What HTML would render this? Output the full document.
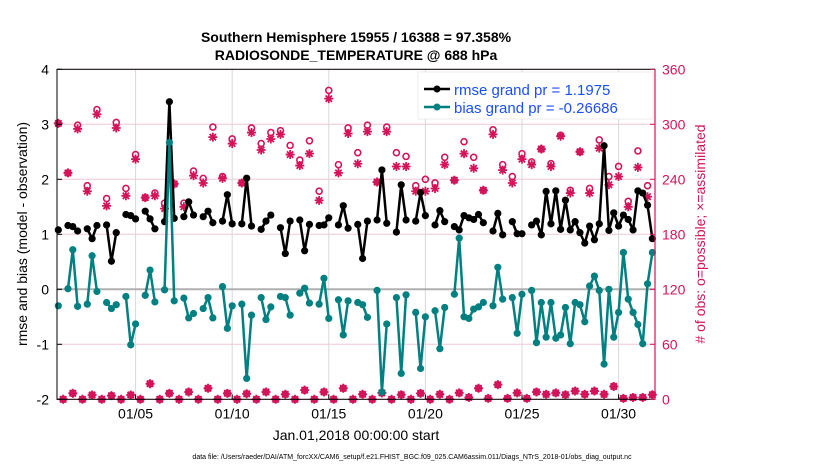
<!DOCTYPE html>
<html><head><meta charset="utf-8"><style>
body{margin:0;background:#fff;}
svg{display:block;font-family:"Liberation Sans",sans-serif;}
</style></head><body>
<svg id="chart" width="830" height="470" viewBox="0 0 830 470" xmlns="http://www.w3.org/2000/svg">
<rect width="830" height="470" fill="#fff"/>
<g id="grid"></g>
<g id="series"></g>
<g id="axes"></g>
<text x="356" y="42" text-anchor="middle" font-size="14" font-weight="bold">Southern Hemisphere 15955 / 16388 = 97.358%</text>
<text x="356" y="60" text-anchor="middle" font-size="14" font-weight="bold">RADIOSONDE_TEMPERATURE @ 688 hPa</text>
<text transform="translate(27,234) rotate(-90)" text-anchor="middle" font-size="14">rmse and bias (model - observation)</text>
<text transform="translate(705,234) rotate(-90)" text-anchor="middle" font-size="14" fill="#d4145a"># of obs: o=possible; ×=assimilated</text>
<text x="356" y="440" text-anchor="middle" font-size="14">Jan.01,2018 00:00:00 start</text>
<text x="412" y="459" text-anchor="middle" font-size="7">data file: /Users/raeder/DAI/ATM_forcXX/CAM6_setup/f.e21.FHIST_BGC.f09_025.CAM6assim.011/Diags_NTrS_2018-01/obs_diag_output.nc</text>
<g>
<rect x="418" y="72" width="235" height="47" fill="#fff" stroke="#ddd" stroke-width="0.5"/>
<g>
<line x1="424" y1="89" x2="450" y2="89" stroke="#000" stroke-width="2.5"/><circle cx="437" cy="89" r="3.5" fill="#000"/>
<text x="454" y="95" font-size="15" fill="#1a4fff">rmse grand pr = 1.1975</text></g>
<g>
<line x1="424" y1="107" x2="450" y2="107" stroke="#008080" stroke-width="2.5"/><circle cx="437" cy="107" r="3.5" fill="#008080"/>
<text x="454" y="113" font-size="15" fill="#1a4fff">bias grand pr = -0.26686</text></g>
</g>
</svg>
<script>
const rmse=[1.08,null,1.16,1.14,1.06,null,1.10,0.92,1.16,null,1.17,0.51,1.03,null,1.36,1.34,1.28,null,1.42,1.28,
1.10,null,1.23,3.41,1.29,null,1.32,1.59,1.35,null,1.32,1.42,1.21,null,1.24,1.72,1.19,null,1.19,2.02,
1.15,null,1.09,1.24,1.35,null,1.12,0.65,1.24,null,1.26,0.70,1.18,null,1.16,1.17,1.30,null,1.17,1.52,
1.11,null,1.18,0.56,1.24,null,1.26,2.17,1.20,null,1.04,1.90,1.26,null,1.24,1.76,1.34,null,1.17,1.43,
1.23,null,1.14,1.08,1.34,1.30,1.27,1.36,1.21,null,1.06,1.38,0.99,null,1.23,1.01,1.01,null,1.17,1.24,
0.99,1.78,1.19,1.79,1.09,1.62,1.08,1.23,1.03,0.84,1.15,0.90,1.19,2.61,1.07,1.39,1.15,1.35,1.27,1.08,
1.79,1.75,1.53,0.92];
const bias=[-0.30,null,0.01,0.72,-0.31,null,-0.27,0.61,-0.04,null,-0.24,-0.35,-0.28,null,-0.13,-1.01,-0.63,null,-0.11,0.35,
-0.23,null,-0.01,2.67,-0.21,null,-0.16,-0.52,-0.44,null,-0.35,-0.15,-0.52,null,0.05,-0.71,-0.30,null,-0.27,-1.62,
-0.47,null,-0.15,-0.55,-0.32,null,-0.13,-0.15,-0.47,null,-0.07,0.02,-0.25,null,-0.27,0.20,-0.53,null,-0.19,-0.83,
-0.21,null,-0.24,-0.28,-0.51,null,-0.02,-1.87,-0.63,null,-0.15,-1.53,-0.10,null,-0.42,-1.44,-0.50,null,-0.39,-1.08,
-0.33,null,-0.09,0.93,-0.50,-0.53,-0.36,-0.32,-0.24,null,-0.30,0.40,-0.18,null,-0.15,-0.80,-0.09,null,-0.02,-0.97,
-0.24,-0.87,-0.24,-0.89,-0.83,-0.33,-0.99,-0.24,-0.28,-0.59,0.06,0.24,-0.02,-1.36,0.00,-0.87,-0.42,0.67,-0.18,-0.42,
-0.64,-0.99,0.10,0.67];
const possible=[301,0,247,6.5,299,0,233,4.7,316,0,219,4,302,0,230,4.7,267,0,220,17,
225,0,214,6.5,235,0,214,8,249,0,241,12,297,0,243,6.5,284,0,236,6,
296,0,279,8,291,0,293,5.5,277,0,261,10,282,0,227,8,337,0,256,12,
296,0,269,5.5,299,0,237,7,297,0,269,5,265,0,233,6.5,240,0,236,5.5,
264,0,239,7,281,2,264,12,228,1,294,16,256,1,243,7,268,1,259,8,
273,5.5,257,7,288,5,228,9,270,5.5,230,9,283,5.5,243,14,254,1,216,2,
271,2,233,5];
const assimilated=[301,0,247,6.5,295,0,227,4.7,311,0,211,4,296,0,222,4.7,262,0,220,17,
222,0,208,6.5,235,0,210,8,244,0,236,12,286,0,241,6.5,279,0,236,6,
291,0,272,8,284,0,289,5.5,267,0,255,10,268,0,217,8,328,0,247,12,
290,0,257,5.5,292,0,237,7,292,0,254,5,254,0,227,6.5,227,0,230,5.5,
256,0,239,7,268,2,252,12,228,1,289,16,250,1,236,7,262,1,256,8,
273,5.5,254,7,287,5,225,9,270,5.5,225,9,274,5.5,234,14,243,1,210,2,
253,2,221,5];
const xTickLabels=["01/05","01/10","01/15","01/20","01/25","01/30"];
const xTickDays=[5,10,15,20,25,30];
const yTicks=[-2,-1,0,1,2,3,4];
const rTicks=[0,60,120,180,240,300,360];

const NS="http://www.w3.org/2000/svg";
const L=57,R=655,T=69.3,B=399.3;
function xs(i){return 58.3+i*4.83;}
function ys(v){return 289.3-v*55;}
function yc(c){return ys(c/60-2);}
const MAG="#d4145a",TEAL="#008080";
function mk(tag,attrs,parent){const e=document.createElementNS(NS,tag);for(const k in attrs)e.setAttribute(k,attrs[k]);parent.appendChild(e);return e;}
const grid=document.getElementById('grid'),ser=document.getElementById('series'),ax=document.getElementById('axes');

yTicks.forEach(v=>{
  if(v===0)return;
  const l=mk('line',{x1:L,x2:R,y1:ys(v),y2:ys(v),stroke:'#f3c6d6','stroke-width':1},grid);
  
  
});
xTickDays.forEach(d=>{
  const l=mk('line',{x1:xs((d-1)*4),x2:xs((d-1)*4),y1:T,y2:B,stroke:'#d8d8d8','stroke-width':1},grid);
  
  
});
const z=mk('line',{x1:L,x2:R,y1:ys(0),y2:ys(0),stroke:'#b0b0b0','stroke-width':2},grid);



function drawSeries(arr,color,name){
  let segs=[],cur=[];
  arr.forEach((v,i)=>{if(v===null){if(cur.length)segs.push(cur);cur=[];}else cur.push([xs(i),ys(v)]);});
  if(cur.length)segs.push(cur);
  const g=mk('g',{},ser);
  
  
  segs.forEach(s=>{
    const p=mk('polyline',{points:s.map(q=>q.join(',')).join(' '),fill:'none',stroke:color,'stroke-width':2.5,'stroke-linejoin':'round'},g);
    
    
  });
  arr.forEach((v,i)=>{if(v===null)return;
    const c=mk('circle',{cx:xs(i),cy:ys(v),r:3.6,fill:color},g);
    
    
  });
}
// counts
const cg=mk('g',{},ser);


possible.forEach((c,i)=>{
  const o=mk('circle',{cx:xs(i),cy:yc(c),r:3,fill:'none',stroke:MAG,'stroke-width':1.6},cg);
  
  
});
assimilated.forEach((c,i)=>{
  const x=xs(i),y=yc(c),r=4.5;
  let d='';
  for(let a=0;a<4;a++){const t=a*Math.PI/4;d+=`M${x-r*Math.cos(t)},${y-r*Math.sin(t)}L${x+r*Math.cos(t)},${y+r*Math.sin(t)}`;}
  const p=mk('path',{d:d,stroke:MAG,'stroke-width':1.8},cg);
  
  
});
drawSeries(rmse,'#000','rmse');
drawSeries(bias,TEAL,'bias');

// axes
const frame=mk('rect',{x:L,y:T,width:R-L,height:B-T,fill:'none',stroke:'#000','stroke-width':1},ax);


const rl=mk('line',{x1:R,x2:R,y1:T,y2:B,stroke:MAG,'stroke-width':1.2},ax);


yTicks.forEach(v=>{
  mk('line',{x1:L,x2:L+5,y1:ys(v),y2:ys(v),stroke:'#000'},ax);
  const t=mk('text',{x:L-8,y:ys(v)+5,'text-anchor':'end','font-size':14},ax);
  t.textContent=String(v);
  
  
});
rTicks.forEach(c=>{
  mk('line',{x1:R-5,x2:R,y1:yc(c),y2:yc(c),stroke:MAG},ax);
  const t=mk('text',{x:R+7,y:yc(c)+5,'font-size':14,fill:MAG},ax);
  t.textContent=String(c);
  
  
});
xTickDays.forEach((d,k)=>{
  const x=xs((d-1)*4);
  mk('line',{x1:x,x2:x,y1:B,y2:B-5,stroke:'#000'},ax);
  const t=mk('text',{x:x,y:B+19,'text-anchor':'middle','font-size':14},ax);
  t.textContent=xTickLabels[k];
  
  
});
</script>
</body></html>
